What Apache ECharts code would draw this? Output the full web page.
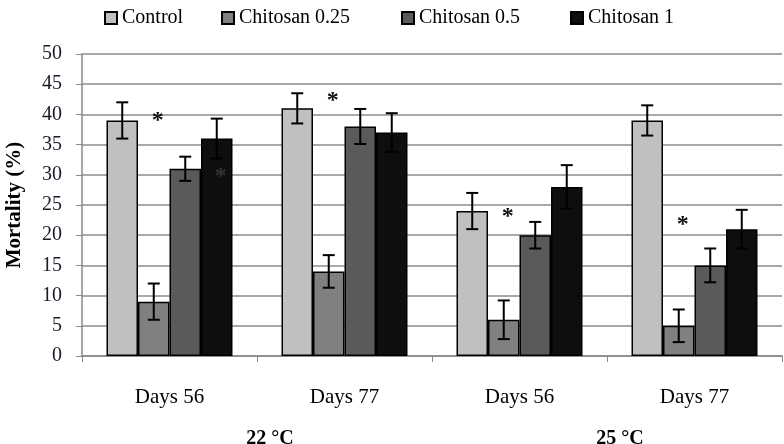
<!DOCTYPE html>
<html><head><meta charset="utf-8">
<script src="https://cdn.jsdelivr.net/npm/echarts@6/dist/echarts.min.js"></script>
<style>html,body{margin:0;padding:0;background:#fff}#c{width:784px;height:444px}</style>
</head><body><div id="c"></div>
<script>
// ---- data ----
const categories = ['Days 56', 'Days 77', 'Days 56', 'Days 77'];
const temperatures = ['22 °C', '25 °C'];
const seriesNames = ['Control', 'Chitosan 0.25', 'Chitosan 0.5', 'Chitosan 1'];
const control = [39, 41, 24, 39];
const controlErr = [3, 2.5, 3, 2.5];
const chitosan025 = [9, 14, 6, 5];
const chitosan025Err = [3, 2.7, 3.2, 2.7];
const chitosan05 = [31, 38, 20, 15];
const chitosan05Err = [2, 2.9, 2.2, 2.8];
const chitosan1 = [36, 37, 28, 21];
const chitosan1Err = [3.3, 3.2, 3.6, 3.2];
// asterisks: [category index, series index, value]
const asterisks = [[0, 1, 39.7], [0, 3, 30.5], [1, 1, 43], [2, 1, 23.8], [3, 1, 22.6]];
const yTicks = {min: 0, max: 50, interval: 5};

// ---- styles ----
const colors = ['#c0c0c0', '#808080', '#5a5a5a', '#0e0e0e'];
const FONT = 'Liberation Serif';
const values = [control, chitosan025, chitosan05, chitosan1];
const errs = [controlErr, chitosan025Err, chitosan05Err, chitosan1Err];
const CAT_GAP = 0.28;

function barOffset(bandWidth, idx) {
  const groupW = bandWidth * (1 - CAT_GAP);
  const bw = groupW / 4;
  return -groupW / 2 + bw * (idx + 0.5);
}

const chart = echarts.init(document.getElementById('c'), null, {renderer: 'canvas'});
const series = [];
values.forEach((vals, i) => {
  series.push({
    name: seriesNames[i], type: 'bar', data: vals,
    barGap: '0%', barCategoryGap: (CAT_GAP * 100) + '%',
    itemStyle: {color: colors[i], borderColor: '#000', borderWidth: 1.5},
    z: 2
  });
});
values.forEach((vals, i) => {
  series.push({
    type: 'custom', z: 5, silent: true,
    data: vals.map((v, k) => [k, v - errs[i][k], v + errs[i][k]]),
    encode: {x: 0, y: [1, 2]},
    renderItem: function (params, api) {
      const k = api.value(0);
      const lo = api.coord([k, api.value(1)]);
      const hi = api.coord([k, api.value(2)]);
      const band = api.size([1, 0])[0];
      const x = lo[0] + barOffset(band, i);
      const cap = 6;
      const st = {stroke: '#000', lineWidth: 2};
      return {type: 'group', children: [
        {type: 'line', shape: {x1: x, y1: lo[1], x2: x, y2: hi[1]}, style: st},
        {type: 'line', shape: {x1: x - cap, y1: hi[1], x2: x + cap, y2: hi[1]}, style: st},
        {type: 'line', shape: {x1: x - cap, y1: lo[1], x2: x + cap, y2: lo[1]}, style: st}
      ]};
    }
  });
});
series.push({
  type: 'custom', z: 6, silent: true,
  data: asterisks,
  encode: {x: 0, y: 2},
  renderItem: function (params, api) {
    const k = api.value(0);
    const si = api.value(1);
    const p = api.coord([k, api.value(2)]);
    const band = api.size([1, 0])[0];
    const x = p[0] + barOffset(band, si) + 4;
    return {type: 'text', style: {
      text: '*', x: x, y: p[1] + 5, align: 'center', verticalAlign: 'middle',
      font: 'bold 24px "' + FONT + '"', fill: si === 3 ? '#333' : '#111'
    }};
  }
});

const legendX = [99, 216, 396, 565];
const legends = seriesNames.map((n, i) => ({
  data: [n], left: legendX[i], top: 3, itemWidth: 12, itemHeight: 12, itemGap: 4,
  icon: 'rect', selectedMode: false,
  textStyle: {fontFamily: FONT, fontSize: 20, color: '#000', padding: [0, 0, 0, 0]}
}));

chart.setOption({
  animation: false,
  backgroundColor: '#fff',
  legend: legends,
  grid: {left: 82, right: 2, top: 54, bottom: 88, containLabel: false, outerBoundsMode: 'none'},
  xAxis: [{
    type: 'category', data: categories,
    axisLine: {lineStyle: {color: '#888', width: 1.5}},
    axisTick: {show: true, length: 6, lineStyle: {color: '#888', width: 1}},
    axisLabel: {margin: 31, fontFamily: FONT, fontSize: 21, color: '#000'}
  }, {
    type: 'category', data: temperatures, position: 'bottom',
    axisLine: {show: false}, axisTick: {show: false}, splitLine: {show: false},
    axisLabel: {margin: 73, fontFamily: FONT, fontSize: 20, fontWeight: 'bold', color: '#000', padding: [0, 0, 0, 26]}
  }],
  yAxis: {
    type: 'value', min: yTicks.min, max: yTicks.max, interval: yTicks.interval,
    name: 'Mortality (%)', nameLocation: 'middle', nameGap: 57,
    nameTextStyle: {fontFamily: FONT, fontSize: 21, fontWeight: 'bold', color: '#000'},
    axisLine: {show: true, lineStyle: {color: '#888', width: 1.5}},
    axisTick: {show: true, length: 6, lineStyle: {color: '#888'}},
    splitLine: {lineStyle: {color: '#8c8c8c', width: 1.5}},
    axisLabel: {margin: 20, fontFamily: FONT, fontSize: 20, color: '#1a1a2a'}
  },
  series: series
});
</script></body></html>
